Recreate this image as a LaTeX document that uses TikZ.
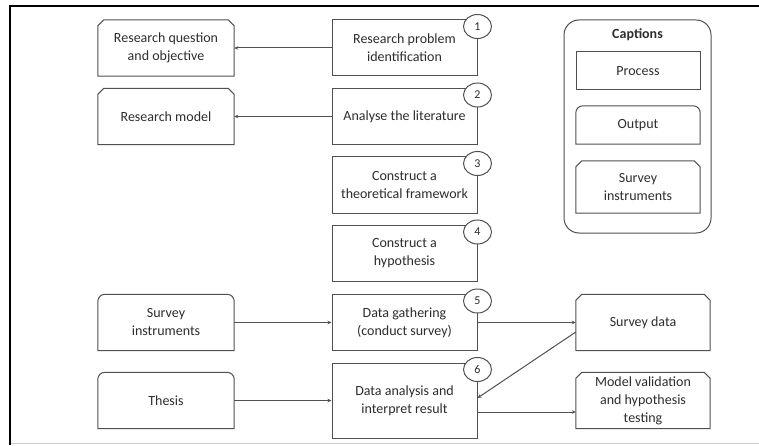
\documentclass[tikz,border=0pt]{standalone}
\usepackage{fontspec}
\setmainfont{Carlito}
\usepackage{tikz}
\usetikzlibrary{arrows.meta, positioning, shapes.geometric}
\definecolor{boxgray}{RGB}{80,80,80}
\definecolor{txtgray}{RGB}{45,45,45}
\definecolor{framegray}{RGB}{205,205,205}
\tikzset{
  %% ---- boxes ----
  boxline/.style  = {draw=boxgray, line width=1pt},
  procbox/.style  = {rectangle, draw=boxgray, line width=1pt, fill=white,
                     minimum width=#1, minimum height=56pt, inner sep=0pt,
                     align=center, text=txtgray},
  procbox/.default = 145pt,
  snipbox/.style  = {rectangle, minimum width=#1, minimum height=56pt,
                     inner sep=0pt, align=center, text=txtgray,
                     append after command={\pgfextra{\let\boxname\tikzlastnode
                       \draw[boxline] (\boxname.south west)
                         -- ([yshift=-6pt]\boxname.north west)
                         -- ([xshift=6pt]\boxname.north west)
                         -- ([xshift=-6pt]\boxname.north east)
                         -- ([yshift=-6pt]\boxname.north east)
                         -- (\boxname.south east) -- cycle;}}},
  snipbox/.default = 136pt,
  roundbox/.style = {rectangle, minimum width=#1, minimum height=56pt,
                     inner sep=0pt, align=center, text=txtgray,
                     append after command={\pgfextra{\let\boxname\tikzlastnode
                       \draw[boxline] (\boxname.south west)
                         -- ([yshift=-7pt]\boxname.north west)
                         arc[start angle=180, end angle=90, radius=7pt]
                         -- ([xshift=-7pt]\boxname.north east)
                         arc[start angle=90, end angle=0, radius=7pt]
                         -- (\boxname.south east) -- cycle;}}},
  roundbox/.default = 136pt,
  stepnum/.style  = {ellipse, draw=boxgray, line width=1pt, fill=white,
                     minimum width=28pt, minimum height=24pt, inner sep=0pt,
                     font=\fontsize{12}{14}\selectfont, text=txtgray},
  %% ---- arrows ----
  arrow/.style    = {-{Stealth[length=4pt, width=3.5pt]}, line width=1pt,
                     draw=boxgray},
}

\begin{document}
\begin{tikzpicture}[x=1pt, y=1pt, font=\fontsize{14}{18}\selectfont]
  \useasboundingbox (0,0) rectangle (759,445);

  %% frame of the page
  \draw[line width=1pt, framegray] (10,2) -- (759,2);
  \draw[line width=1.5pt, black] (10,0) -- (10,439);
  \draw[line width=2pt, black] (9.25,439) -- (759,439);

  %% process column and outputs
  \node[snipbox] (rq) at (166,397) {Research question\\and objective};
  \node[procbox] (rpi) at (404.5,397) {Research problem\\identification};

  \node[snipbox] (rmod) at (166,328.5) {Research model};
  \node[procbox] (alit) at (404.5,328.5) {Analyse the literature};

  \node[procbox] (tfw) at (404.5,260) {Construct a\\theoretical framework};
  \node[procbox] (hyp) at (404.5,191.5) {Construct a\\hypothesis};

  \node[roundbox] (sinst) at (166,122.5) {Survey\\instruments};
  \node[procbox] (dg) at (404.5,122.5) {Data gathering\\(conduct survey)};
  \node[snipbox=134pt] (sdata) at (643,122.5) {Survey data};

  \node[roundbox] (thesis) at (166,44.5) {Thesis};
  \node[procbox, minimum height=75pt] (da) at (404.5,44.5)
    {Data analysis and\\interpret result};
  \node[snipbox=134pt] (mval) at (643,44.5)
    {Model validation\\and hypothesis\\testing};

  %% step numbers
  \foreach \proc/\num in {rpi/1, alit/2, tfw/3, hyp/4, dg/5, da/6}
    \node[stepnum] (n\num) at ([yshift=-7pt]\proc.north east) {\num};

  %% connectors
  \draw[arrow] (rpi) -- (rq);
  \draw[arrow] (alit) -- (rmod);
  \draw[arrow] (sinst) -- (dg);
  \draw[arrow] (dg) -- (sdata);
  \draw[arrow] (thesis) -- (da);
  \draw[arrow] ([yshift=-9.5pt]sdata.west) -- ([yshift=2.5pt]da.east);
  \draw[arrow] ([yshift=-11.5pt]da.east) -- ([yshift=-11.5pt]mval.west);

  %% captions
  \node[rectangle, rounded corners=15pt, boxline,
    minimum width=147pt, minimum height=213pt] (capbox) at (637.5,318.5) {};
  \node[font=\fontsize{14}{18}\selectfont\bfseries, text=txtgray]
    (captitle) at (637.5,410) {Captions};
  \node[procbox=124pt, minimum height=38pt] (lgproc) at (638,374) {Process};
  \node[roundbox=124pt, minimum height=38pt] (lgout) at (638,320) {Output};
  \node[snipbox=124pt, minimum height=52pt] (lgsurv) at (638,258)
    {Survey\\instruments};

\end{tikzpicture}
\end{document}
